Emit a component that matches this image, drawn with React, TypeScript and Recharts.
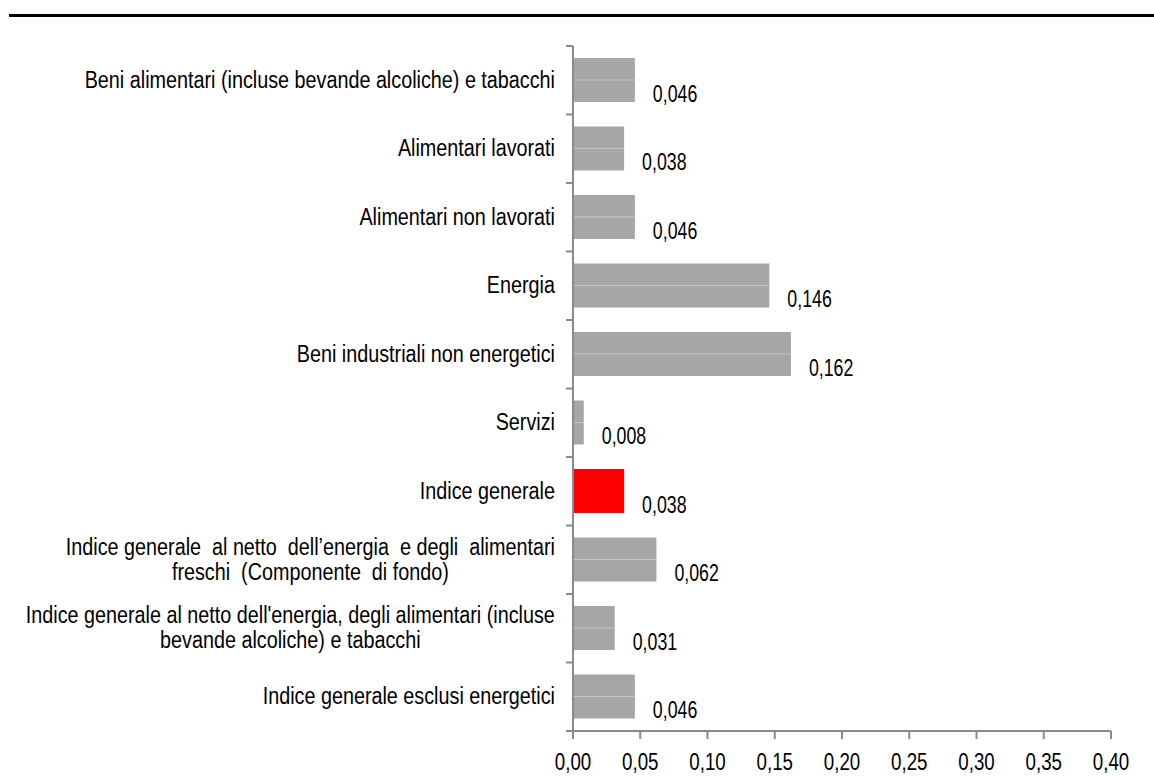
import { Bar, BarChart, Cell, LabelList, XAxis, YAxis } from "recharts";

const categories = [
  "Beni alimentari (incluse bevande alcoliche) e tabacchi",
  "Alimentari lavorati",
  "Alimentari non lavorati",
  "Energia",
  "Beni industriali non energetici",
  "Servizi",
  "Indice generale",
  "Indice generale  al netto  dell’energia  e degli  alimentari\nfreschi  (Componente  di fondo)",
  "Indice generale al netto dell'energia, degli alimentari (incluse\nbevande alcoliche) e tabacchi",
  "Indice generale esclusi energetici",
];

const values = [0.046, 0.038, 0.046, 0.146, 0.162, 0.008, 0.038, 0.062, 0.031, 0.046];

const xTicks = [0, 0.05, 0.1, 0.15, 0.2, 0.25, 0.3, 0.35, 0.4];

const highlighted = "Indice generale";

const data = categories.map((name, i) => ({ name, value: values[i] }));

// no narrow font installed: squeeze Liberation Sans horizontally instead
const FONT = '"Liberation Sans", Arial, sans-serif';
const AXIS_COLOR = "#8a8a8a";
const BAR_GRAY = "#a6a6a6";

const WIDTH = 1154;
const HEIGHT = 781;
const TOP = 46;
const AXIS_X = 573;
const X_AXIS_H = 50;
const PLOT_H = HEIGHT - TOP - X_AXIS_H;
const BAND = PLOT_H / categories.length;

const CAT_SIZE = 23;
const CAT_SCALE = 0.86;
const NUM_SIZE = 24;
const LABEL_SCALE = 0.74;
const TICK_SCALE = 0.78;

let ctx: CanvasRenderingContext2D | null = null;
const measure = (text: string, size: number) => {
  if (!ctx) ctx = document.createElement("canvas").getContext("2d");
  if (!ctx) return text.length * size * 0.5;
  ctx.font = `${size}px ${FONT}`;
  return ctx.measureText(text).width;
};

const fmt = (v: number, digits: number) => v.toFixed(digits).replace(".", ",");

interface NarrowTextProps {
  x: number;
  y: number;
  size: number;
  scale: number;
  anchor: "start" | "middle" | "end";
  text: string;
}

const NarrowText = ({ x, y, size, scale, anchor, text }: NarrowTextProps) => (
  <g transform={`translate(${x},${y}) scale(${scale},1)`}>
    <text
      x={0}
      y={0}
      textAnchor={anchor}
      dominantBaseline="central"
      fontFamily={FONT}
      fontSize={size}
      fill="#000"
      style={{ whiteSpace: "pre" }}
    >
      {text}
    </text>
  </g>
);

const CategoryTick = (props: any) => {
  const { y, payload, index } = props;
  const lines = String(payload.value).split("\n");
  const right = AXIS_X - 18;
  const lineH = 25;
  const blockW = Math.max(...lines.map((l) => measure(l, CAT_SIZE) * CAT_SCALE));
  const startY = y - ((lines.length - 1) * lineH) / 2;
  return (
    <g>
      <line x1={AXIS_X - 7} x2={AXIS_X} y1={y - BAND / 2} y2={y - BAND / 2} stroke={AXIS_COLOR} strokeWidth={2} />
      {index === categories.length - 1 ? (
        <line x1={AXIS_X - 7} x2={AXIS_X} y1={y + BAND / 2} y2={y + BAND / 2} stroke={AXIS_COLOR} strokeWidth={2} />
      ) : null}
      {lines.map((l, i) => (
        <NarrowText
          key={i}
          x={lines.length > 1 ? right - blockW / 2 : right}
          y={startY + i * lineH}
          anchor={lines.length > 1 ? "middle" : "end"}
          size={CAT_SIZE}
          scale={CAT_SCALE}
          text={l}
        />
      ))}
    </g>
  );
};

const ValueTick = (props: any) => {
  const { x, y, payload } = props;
  return <NarrowText x={x} y={y + 23} anchor="middle" size={NUM_SIZE} scale={TICK_SCALE} text={fmt(payload.value, 2)} />;
};

const BarShape = (props: any) => {
  const { x, y, width, height, fill } = props;
  return (
    <g>
      <rect x={x} y={y} width={width} height={height} fill={fill} />
      {fill === BAR_GRAY ? (
        <line x1={x} x2={x + width} y1={y + height / 2} y2={y + height / 2} stroke="#c6c6c6" strokeWidth={1} />
      ) : null}
    </g>
  );
};

const ValueLabel = (props: any) => {
  const { x, y, width, height, value } = props;
  return (
    <NarrowText
      x={x + width + 18}
      y={y + height / 2 + 13}
      anchor="start"
      size={NUM_SIZE}
      scale={LABEL_SCALE}
      text={fmt(Number(value), 3)}
    />
  );
};

const App = () => {
  return (
    <div style={{ position: "absolute", left: 0, top: 0, width: WIDTH, height: HEIGHT, background: "#fff" }}>
      <div style={{ position: "absolute", left: 9, top: 14, width: WIDTH - 9, height: 3, background: "#000" }} />
      <BarChart
        layout="vertical"
        width={WIDTH}
        height={HEIGHT}
        data={data}
        margin={{ top: TOP, right: WIDTH - 1111, bottom: 0, left: 0 }}
        barSize={44}
      >
        <XAxis
          type="number"
          domain={[0, 0.4]}
          ticks={xTicks}
          height={X_AXIS_H}
          axisLine={{ stroke: AXIS_COLOR, strokeWidth: 2 }}
          tickLine={{ stroke: AXIS_COLOR, strokeWidth: 2 }}
          tickSize={8}
          tickMargin={0}
          tick={<ValueTick />}
        />
        <YAxis
          type="category"
          dataKey="name"
          width={AXIS_X}
          interval={0}
          axisLine={{ stroke: AXIS_COLOR, strokeWidth: 2 }}
          tickLine={false}
          tick={<CategoryTick />}
        />
        <Bar dataKey="value" isAnimationActive={false} shape={<BarShape />}>
          {data.map((d) => (
            <Cell key={d.name} fill={d.name === highlighted ? "#ff0000" : BAR_GRAY} />
          ))}
          <LabelList dataKey="value" content={<ValueLabel />} />
        </Bar>
      </BarChart>
    </div>
  );
};

export default App;
